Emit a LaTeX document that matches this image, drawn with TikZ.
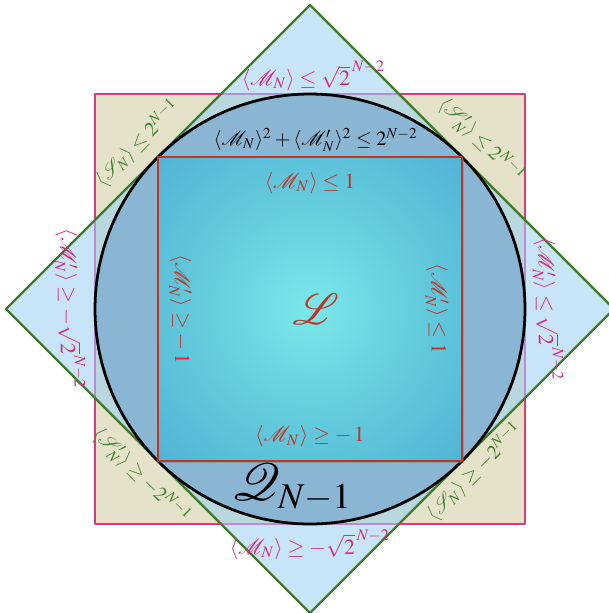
\documentclass[tikz,border=0pt]{standalone}
\usepackage{amsmath}
\usepackage{mathptmx}
\usepackage{mathrsfs}
\usetikzlibrary{shadows, calc}

\definecolor{wheat}{RGB}{228,226,200}
\definecolor{sky}{RGB}{200,228,248}
\definecolor{mist}{RGB}{185,215,222}
\definecolor{steel}{RGB}{138,182,212}
\definecolor{rose}{RGB}{212,60,122}
\definecolor{lilac}{RGB}{185,140,212}
\definecolor{leaf}{RGB}{62,122,42}
\definecolor{leafink}{RGB}{66,128,48}
\definecolor{roseink}{RGB}{212,44,122}
\definecolor{brick}{RGB}{192,52,36}
\definecolor{lagooncore}{RGB}{122,232,234}
\definecolor{lagoonin}{RGB}{100,205,222}
\definecolor{lagoonedge}{RGB}{70,158,205}
\definecolor{lagoonrim}{RGB}{52,112,180}

\pgfdeclareradialshading{lagoon}{\pgfpoint{0bp}{0bp}}{%
  color(0bp)=(lagooncore); color(12bp)=(lagoonin);
  color(35bp)=(lagoonedge); color(50bp)=(lagoonrim)}

\begin{document}
\begin{tikzpicture}[
  line join=round,
  %% Region styles
  bound/.style={draw=rose, line width=0.9pt},
  cone/.style={draw=leaf, line width=0.9pt},
  ball/.style={draw=black, fill=steel, line width=1.1pt},
  local/.style={draw=brick, line width=1pt},
  %% Label styles
  roselabel/.style={text=roseink, font=\fontsize{8.6}{10}\selectfont, inner sep=1pt},
  leaflabel/.style={text=leafink, font=\footnotesize, inner sep=1pt},
  bricklabel/.style={text=brick, font=\fontsize{8.6}{10}\selectfont, inner sep=1pt},
  balllabel/.style={text=black, font=\footnotesize, inner sep=1pt},
]
\useasboundingbox (-4.326,-4.242) rectangle (4.172,4.312);

%% ── REGIONS ───────────────────────────────────────────────────────────────
%% square of the S bounds
\fill[wheat] (-3,-3) rectangle (3,3);

%% diamond of the M bounds
\fill[sky] (0,4.243) -- (4.243,0) -- (0,-4.243) -- (-4.243,0) -- cycle;
\begin{scope}
  \clip (0,4.243) -- (4.243,0) -- (0,-4.243) -- (-4.243,0) -- cycle;
  \fill[mist] (-3,-3) rectangle (3,3);
\end{scope}

\draw[bound] (-3,-3) rectangle (3,3);
\begin{scope}
  \clip (0,4.243) -- (4.243,0) -- (0,-4.243) -- (-4.243,0) -- cycle;
  \draw[bound, draw=lilac] (-3,-3) rectangle (3,3);
\end{scope}
\draw[cone] (0,4.243) -- (4.243,0) -- (0,-4.243) -- (-4.243,0) -- cycle;

%% quantum set
\path[ball] (0,0) circle (3);

%% local set
\fill[lagoonrim, drop shadow={opacity=0.45, shadow xshift=0.7pt, shadow yshift=-0.7pt}]
  (-2.121,-2.121) rectangle (2.121,2.121);
\begin{scope}
  \clip (-2.121,-2.121) rectangle (2.121,2.121);
  \shade[shading=lagoon] (0,0) circle (3);
\end{scope}
\draw[local] (-2.121,-2.121) rectangle (2.121,2.121);

%% ── LABELS ────────────────────────────────────────────────────────────────
%% diamond
\node[roselabel] (m-top) at (0.05, 3.25)
  {$\langle\mathcal{M}_N\rangle \le \sqrt{2}^{\,N-2}$};
\node[roselabel] (m-bot) at (0, -3.29)
  {$\langle\mathcal{M}_N\rangle \ge -\sqrt{2}^{\,N-2}$};
\node[roselabel, rotate=-90] (mp-left) at (-3.35, 0)
  {$\langle\mathcal{M}'_N\rangle \ge -\sqrt{2}^{\,N-2}$};
\node[roselabel, rotate=-90] (mp-right) at (3.32, 0)
  {$\langle\mathcal{M}'_N\rangle \le \sqrt{2}^{\,N-2}$};

%% square corners
\node[leaflabel, rotate=45]  (s-tl)  at (-2.40, 2.31)
  {$\langle\mathcal{S}_N\rangle \le 2^{N-1}$};
\node[leaflabel, rotate=-45] (sp-tr) at (2.39, 2.35)
  {$\langle\mathcal{S}'_N\rangle \le 2^{N-1}$};
\node[leaflabel, rotate=-45] (sp-bl) at (-2.36, -2.33)
  {$\langle\mathcal{S}'_N\rangle \ge -2^{N-1}$};
\node[leaflabel, rotate=45]  (s-br)  at (2.30, -2.27)
  {$\langle\mathcal{S}_N\rangle \ge -2^{N-1}$};

%% circle
\node[balllabel] (q-bound) at (0.08, 2.36)
  {$\langle\mathcal{M}_N\rangle^2 + \langle\mathcal{M}'_N\rangle^2 \le 2^{N-2}$};
\node[balllabel, font=\huge] (q-set) at (-0.25, -2.5) {$\mathcal{Q}_{N-1}$};

%% inner square
\node[bricklabel] (l-top) at (0, 1.76) {$\langle\mathcal{M}_N\rangle \le 1$};
\node[bricklabel] (l-bot) at (0, -1.78) {$\langle\mathcal{M}_N\rangle \ge -\,1$};
\node[bricklabel, rotate=-90] (l-left) at (-1.81, 0)
  {$\langle\mathcal{M}'_N\rangle \ge -\,1$};
\node[bricklabel, rotate=-90] (l-right) at (1.77, 0)
  {$\langle\mathcal{M}'_N\rangle \le 1$};
\node[bricklabel, font=\LARGE] (l-set) at (0.08, 0) {$\mathscr{L}$};

\end{tikzpicture}
\end{document}
